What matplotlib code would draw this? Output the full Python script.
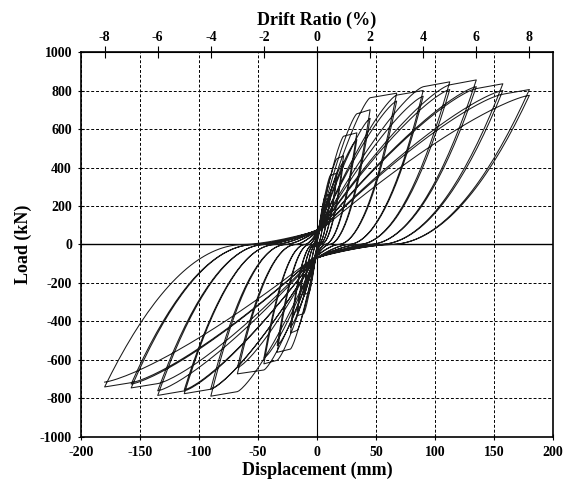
import numpy as np
import matplotlib
matplotlib.use('Agg')
import matplotlib.pyplot as plt

plt.rcParams['font.family'] = ['Liberation Serif', 'DejaVu Serif']
plt.rcParams['font.weight'] = 'bold'
plt.rcParams['axes.unicode_minus'] = False

# loading protocol (drift %) and story height factor (mm per % drift)
drift_levels = [0.25, 0.5, 0.75, 1.0, 1.5, 2, 3, 4, 5, 6, 7, 8]
mm_per_drift = 22.5

# peak loads (kN), first and second cycle at each drift level
push_peak_1 = [140, 260, 370, 460, 580, 700, 786, 800, 845, 855, 835, 805]
push_peak_2 = [130, 245, 350, 430, 545, 655, 745, 770, 805, 820, 800, 775]
pull_peak_1 = [-140, -260, -370, -460, -560, -620, -672, -788, -775, -784, -745, -740]
pull_peak_2 = [-130, -245, -350, -430, -525, -590, -640, -750, -755, -760, -725, -715]


def half_cycle(tip_d, tip_f, tgt_d, tgt_f, env_d):
    # one half cycle, written with the target on the positive side
    d_all, f_all = [], []
    r = 0.0
    if tip_d < 0:
        r = 0.42 * abs(tip_d) * abs(tip_d) / (abs(tip_d) + 40)
        d = np.linspace(tip_d, -r, 40)
        f = tip_f * ((d + r) / (tip_d + r)) ** 2
        d_all.append(d); f_all.append(f)
    # pinched slip back across the origin
    s = 0.02 * tgt_d
    f0 = 0.1 * tgt_f
    d = np.linspace(-r, s, 30)
    f = f0 * ((d + r) / (s + r)) ** 1.5 if s + r > 0 else np.zeros_like(d)
    d_all.append(d); f_all.append(f)
    # reloading up to the previous peak, then along the envelope
    end = min(max(env_d, 0.6 * tgt_d), tgt_d)
    top = tgt_f if end >= tgt_d else 0.97 * tgt_f
    d = np.linspace(s, end, 50)
    u = (d - s) / (end - s)
    f = f0 + (top - f0) * (1 - (1 - u) ** 1.3)
    d_all.append(d); f_all.append(f)
    if end < tgt_d:
        d = np.linspace(end, tgt_d, 15)
        f = top + (tgt_f - top) * (d - end) / (tgt_d - end)
        d_all.append(d); f_all.append(f)
    return np.concatenate(d_all), np.concatenate(f_all)


disp, load = [0.0], [0.0]
tip_d, tip_f = 0.0, 0.0
max_pos, max_neg = 0.0, 0.0
for lvl, pp1, pp2, pn1, pn2 in zip(drift_levels, push_peak_1, push_peak_2,
                                   pull_peak_1, pull_peak_2):
    D = lvl * mm_per_drift
    for pp, pn in ((pp1, pn1), (pp2, pn2)):
        # push
        d, f = half_cycle(tip_d, tip_f, D, pp, max_pos)
        disp.extend(d); load.extend(f)
        max_pos = max(max_pos, D)
        tip_d, tip_f = D, pp
        # pull (mirrored)
        d, f = half_cycle(-tip_d, -tip_f, D, -pn, max_neg)
        disp.extend(-d); load.extend(-f)
        max_neg = max(max_neg, D)
        tip_d, tip_f = -D, pn

fig = plt.figure(figsize=(5.67, 4.92), dpi=100)
ax = fig.add_axes([0.1429, 0.1118, 0.8324, 0.7825])

ax.set_xlim(-200, 200)
ax.set_ylim(-1000, 1000)
ax.set_xticks(range(-200, 201, 50))
ax.set_yticks(range(-1000, 1001, 200))
ax.grid(True, linestyle=(0, (3, 2)), color='k', linewidth=0.7)
ax.axhline(0, color='k', linewidth=1.0)
ax.axvline(0, color='k', linewidth=0.8)

ax.plot(disp, load, color='#1a1a1a', linewidth=0.75)

for sp in ax.spines.values():
    sp.set_linewidth(1.2)
ax.tick_params(direction='inout', length=5, labelsize=10, pad=4, top=False)
ax.set_xlabel('Displacement (mm)', fontsize=13, fontweight='bold', labelpad=2)
ax.set_ylabel('Load (kN)', fontsize=13, fontweight='bold', labelpad=6)

sec = ax.secondary_xaxis('top', functions=(lambda x: x / mm_per_drift,
                                           lambda x: x * mm_per_drift))
sec.set_xticks(range(-8, 9, 2))
sec.tick_params(direction='inout', length=8, labelsize=10, pad=2)
sec.set_xlabel('Drift Ratio (%)', fontsize=13, fontweight='bold', labelpad=4)

fig.savefig('out.png', dpi=100)
